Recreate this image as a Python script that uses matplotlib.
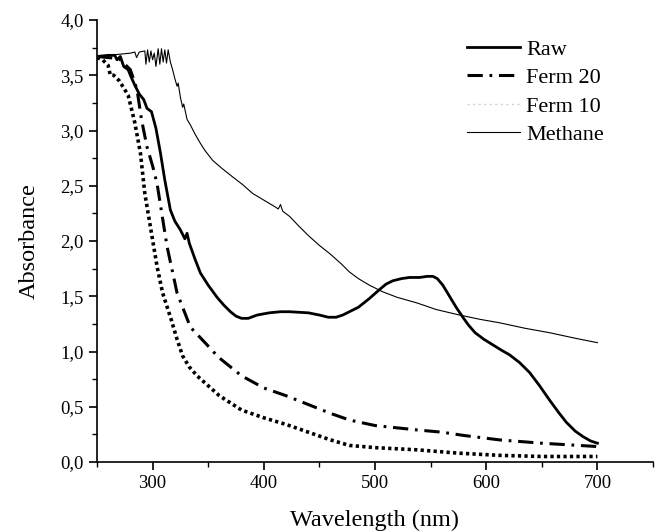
import matplotlib
matplotlib.use("Agg")
import matplotlib.pyplot as plt
from matplotlib.lines import Line2D
from matplotlib.ticker import MultipleLocator, FuncFormatter

plt.rcParams['font.family'] = ['Liberation Serif', 'DejaVu Serif']

# Raw
raw_x = [250, 260, 266, 268, 271, 274, 278, 280, 284, 288, 292, 295, 299, 303, 307, 311,
         316, 320, 325, 329, 331, 333, 338, 343, 350, 358, 364, 370, 375, 380, 386, 394,
         405, 415, 423, 440, 450, 458, 465, 471, 477, 485, 495, 504, 510, 516, 524, 531,
         540, 547, 552, 556, 561, 567, 573, 579, 584, 590, 598, 606, 614, 621, 630, 639,
         648, 657, 665, 672, 680, 687, 694, 700]
raw_y = [3.67, 3.68, 3.68, 3.64, 3.67, 3.58, 3.55, 3.50, 3.41, 3.33, 3.28, 3.20, 3.17, 3.02, 2.80, 2.55,
         2.28, 2.18, 2.10, 2.02, 2.07, 1.98, 1.84, 1.71, 1.60, 1.49, 1.42, 1.36, 1.32, 1.30, 1.30, 1.33,
         1.35, 1.36, 1.36, 1.35, 1.33, 1.31, 1.31, 1.33, 1.36, 1.40, 1.48, 1.56, 1.61, 1.64, 1.66, 1.67,
         1.67, 1.68, 1.68, 1.66, 1.60, 1.50, 1.40, 1.31, 1.24, 1.17, 1.11, 1.06, 1.01, 0.97, 0.90, 0.81,
         0.69, 0.56, 0.45, 0.36, 0.28, 0.23, 0.19, 0.17]

# Ferm 20
f20_x = [250, 260, 270, 280, 286, 290, 295, 300, 304, 313, 322, 334, 349, 359, 380, 400,
         420, 440, 460, 477, 500, 538, 560, 580, 612, 650, 700]
f20_y = [3.67, 3.66, 3.65, 3.55, 3.37, 3.10, 2.85, 2.68, 2.52, 1.95, 1.53, 1.22, 1.06, 0.95, 0.78, 0.67,
         0.60, 0.52, 0.44, 0.38, 0.33, 0.29, 0.27, 0.24, 0.20, 0.17, 0.14]

# Ferm 10
f10_x = [250, 255, 260, 262, 265, 270, 278, 284, 289, 293, 298, 304, 309, 317, 322, 327,
         333, 340, 350, 360, 380, 400, 420, 440, 460, 477, 500, 538, 575, 612, 650, 700]
f10_y = [3.66, 3.64, 3.59, 3.50, 3.50, 3.45, 3.32, 3.07, 2.80, 2.43, 2.13, 1.77, 1.53, 1.28, 1.11, 0.96,
         0.86, 0.78, 0.69, 0.60, 0.47, 0.40, 0.34, 0.27, 0.20, 0.15, 0.13, 0.11, 0.08, 0.06, 0.05, 0.05]

# Methane
met_x = [250, 260, 270, 280, 284, 285.6, 288, 293, 294, 295.5, 297, 298.5, 300, 301.5, 303, 305,
         306.5, 308, 309.5, 311, 312.5, 314, 316, 318, 320, 322, 323, 325, 327, 328, 331, 334,
         338, 342.6, 347, 354, 362, 372, 381, 390, 400, 410, 413, 415, 417, 423.5, 431, 440,
         450, 460, 470, 477, 485, 495, 507, 520, 537.6, 555, 576, 595, 612, 635, 657, 680, 700]
met_y = [3.67, 3.68, 3.69, 3.70, 3.71, 3.66, 3.71, 3.72, 3.60, 3.73, 3.62, 3.72, 3.64, 3.70, 3.58, 3.74,
         3.60, 3.74, 3.62, 3.73, 3.61, 3.73, 3.62, 3.55, 3.47, 3.40, 3.43, 3.30, 3.21, 3.24, 3.10, 3.05,
         2.97, 2.89, 2.82, 2.73, 2.66, 2.58, 2.51, 2.43, 2.37, 2.31, 2.29, 2.33, 2.27, 2.22, 2.14, 2.05,
         1.96, 1.88, 1.79, 1.72, 1.66, 1.60, 1.54, 1.49, 1.44, 1.38, 1.33, 1.29, 1.26, 1.21, 1.17, 1.12, 1.08]

labels = ["Raw", "Ferm 20", "Ferm 10", "Methane"]

fig = plt.figure(figsize=(6.58, 5.31), dpi=100)
ax = fig.add_axes([97 / 658, 1 - 462 / 531, 556 / 658, 442 / 531])

ax.plot(raw_x, raw_y, color='black', lw=2.0, solid_joinstyle='round')
ax.plot(f20_x, f20_y, color='black', lw=2.2, linestyle=(0, (5, 2.2, 0.9, 2.2)))
ax.plot(f10_x, f10_y, color='black', lw=2.6, linestyle=(0, (0.9, 0.9)))
ax.plot(met_x, met_y, color='black', lw=0.8)

ax.set_xlim(250, 750)
ax.set_ylim(0, 4)
ax.xaxis.set_major_locator(MultipleLocator(100))
ax.xaxis.set_minor_locator(MultipleLocator(50))
ax.yaxis.set_major_locator(MultipleLocator(0.5))
ax.yaxis.set_minor_locator(MultipleLocator(0.25))
ax.yaxis.set_major_formatter(FuncFormatter(lambda v, p: f"{v:.1f}".replace('.', ',')))

for s in ['top', 'right']:
    ax.spines[s].set_visible(False)
for s in ['left', 'bottom']:
    ax.spines[s].set_linewidth(1.2)
ax.tick_params(which='major', direction='out', length=6, width=1.2, labelsize=13.5)
ax.tick_params(which='minor', direction='out', length=3.5, width=1.0)

ax.set_xlabel("Wavelength (nm)", fontsize=17.5, labelpad=13)
ax.set_ylabel("Absorbance", fontsize=17.5, labelpad=15)

handles = [
    Line2D([], [], color='black', lw=2.0),
    Line2D([], [], color='black', lw=2.2, linestyle=(0, (5, 2.2, 0.9, 2.2))),
    Line2D([], [], color='#d0d0d0', lw=1.0, linestyle=(0, (1.5, 2.5))),
    Line2D([], [], color='black', lw=0.8),
]
fig.legend(handles, labels, loc='upper left', bbox_to_anchor=(467 / 658, 1 - 39 / 531),
           frameon=False, fontsize=16, handlelength=2.4, handletextpad=0.25,
           labelspacing=0.36, borderpad=0, borderaxespad=0)

fig.savefig("out.png", dpi=100)
